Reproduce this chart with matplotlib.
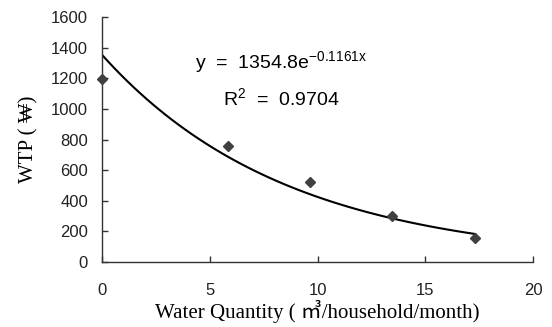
import matplotlib
matplotlib.use('Agg')
import matplotlib.pyplot as plt
import numpy as np

# observed WTP per water quantity
quantity = [0.0, 5.86, 9.65, 13.44, 17.31]
wtp = [1195, 758, 520, 301, 155]

# exponential trendline from the equation shown on the chart
fit_a = 1354.8
fit_b = -0.1161
r_squared = 0.9704

x_ticks = [0, 5, 10, 15, 20]
y_ticks = [0, 200, 400, 600, 800, 1000, 1200, 1400, 1600]

plt.rcParams['mathtext.fontset'] = 'custom'
plt.rcParams['mathtext.rm'] = 'Liberation Sans'
plt.rcParams['mathtext.it'] = 'Liberation Sans'

fig = plt.figure(figsize=(5.52, 3.27), dpi=100)
ax = fig.add_axes([0.1848, 0.1997, 0.7808, 0.7471])

xs = np.linspace(0, max(quantity), 60)
ax.plot(xs, fit_a * np.exp(fit_b * xs), color='black', lw=1.5, zorder=2)
ax.plot(quantity, wtp, 'D', color='#404040', ms=5.5, zorder=3, clip_on=False)

ax.set_xlim(0, 20)
ax.set_ylim(0, 1600)
ax.set_xticks(x_ticks)
ax.set_yticks(y_ticks)
ax.spines['top'].set_visible(False)
ax.spines['right'].set_visible(False)
for s in ('left', 'bottom'):
    ax.spines[s].set_linewidth(1.0)
    ax.spines[s].set_color('#333333')
ax.tick_params(axis='both', direction='in', length=4, width=1, color='#333333',
               labelsize=12, labelcolor='#222222')
ax.tick_params(axis='y', pad=10)
ax.tick_params(axis='x', pad=15)
for lab in ax.get_xticklabels() + ax.get_yticklabels():
    lab.set_family('Liberation Sans')

ax.set_ylabel('WTP ( ₩)', family=['Liberation Serif', 'DejaVu Serif'], fontsize=15, labelpad=9)
ax.set_xlabel('Water Quantity ( ㎥/household/month)', family=['Liberation Serif', 'Noto Sans CJK KR'],
              fontsize=15, labelpad=2)

fig.text(281 / 552, 1 - 62 / 327, 'y  =  1354.8e$^{-0.1161x}$', ha='center', va='center',
         family='Liberation Sans', fontsize=14)
fig.text(281 / 552, 1 - 98 / 327, 'R$^{2}$  =  %.4f' % r_squared, ha='center', va='center',
         family='Liberation Sans', fontsize=14)

fig.savefig('out.png', dpi=100)
